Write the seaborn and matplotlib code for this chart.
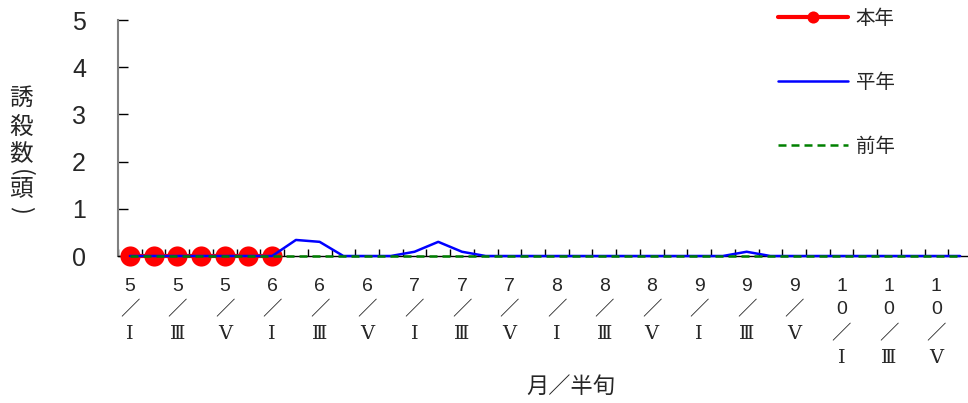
import matplotlib
matplotlib.use("Agg")
import matplotlib.pyplot as plt
import seaborn as sns
import numpy as np

# 月／半旬 categories (5/I .. 10/VI)
months = [5, 6, 7, 8, 9, 10]
halves = ["Ⅰ", "Ⅱ", "Ⅲ", "Ⅳ", "Ⅴ", "Ⅵ"]

# series values
this_year = [0, 0, 0, 0, 0, 0, 0]
normal_year = [0, 0, 0, 0, 0, 0, 0, 0.34, 0.30, 0, 0, 0, 0.09, 0.30, 0.09, 0,
               0, 0, 0, 0, 0, 0, 0, 0, 0, 0, 0.09, 0, 0, 0, 0, 0, 0, 0, 0, 0]
last_year = [0] * 36

y_ticks = [0, 1, 2, 3, 4, 5]

sns.set_theme(style="white")
plt.rcParams["font.family"] = ["Noto Sans CJK JP", "DejaVu Sans"]
tick_font = ["Liberation Sans", "DejaVu Serif", "Noto Sans CJK JP"]

# build tick labels, only every other one is shown
tick_labels = []
for m in months:
    for j, h in enumerate(halves):
        if j % 2 == 0:
            tick_labels.append("\n".join(list(str(m))) + "\n／\n" + h)
        else:
            tick_labels.append("")

fig = plt.figure(figsize=(9.68, 4.03), dpi=100)
ax = fig.add_axes([118 / 968, 1 - 256 / 403, (972 - 118) / 968, (256 - 20) / 403])

x_all = np.arange(len(tick_labels))

sns.lineplot(x=x_all[:len(this_year)], y=this_year, ax=ax, color="#ff0000",
             linewidth=3, marker="o", markersize=14.5, markeredgewidth=0,
             label="本年", clip_on=False, zorder=3)
sns.lineplot(x=x_all[:len(normal_year)], y=normal_year, ax=ax, color="#0000ff",
             linewidth=1.8, label="平年", clip_on=False, zorder=4)
sns.lineplot(x=x_all[:len(last_year)], y=last_year, ax=ax, color="#008000",
             linewidth=1.8, linestyle=(0, (3.2, 2)), label="前年", clip_on=False, zorder=5)

ax.set_xlim(-0.5, len(tick_labels) - 0.5)
ax.set_ylim(0, 5)
ax.set_yticks(y_ticks)
ax.set_yticklabels([str(v) for v in y_ticks], family=tick_font, fontsize=18)
ax.set_xticks(x_all)
ax.set_xticklabels(tick_labels, fontsize=14, linespacing=1.5, va="top", family=tick_font)
ax.set_xticks(np.arange(-0.5, len(tick_labels)), minor=True)

ax.tick_params(axis="x", which="major", length=0, pad=15.5)
ax.tick_params(axis="x", which="minor", direction="in", length=5, width=1, color="black", bottom=True)
ax.tick_params(axis="y", direction="in", length=7, width=1, color="black", left=True, pad=23)

for s in ["top", "right"]:
    ax.spines[s].set_visible(False)
ax.spines["left"].set_color("#808080")
ax.spines["left"].set_linewidth(1.5)
ax.spines["bottom"].set_color("black")
ax.spines["bottom"].set_linewidth(1)
ax.grid(False)
ax.set_xlabel("")
ax.set_ylabel("")

# vertical y label, parentheses turned sideways
ylab_chars = [("誘", 98, 0), ("殺", 127, 0), ("数", 155, 0), ("(", 173, 270), ("頭", 190, 0), (")", 210, 270)]
for ch, yy, rot in ylab_chars:
    fig.text(21 / 968, 1 - yy / 403, ch, fontsize=17, ha="center", va="center",
             rotation=rot)

fig.text(571 / 968, 1 - 386 / 403, "月／半旬", fontsize=16, ha="center", va="center")

leg = ax.legend(loc="upper left", bbox_to_anchor=(778 / 968, 1 - 8 / 403),
                bbox_transform=fig.transFigure, frameon=False, fontsize=14,
                handlelength=3.6, handletextpad=0.4, labelspacing=2.2,
                borderpad=0, borderaxespad=0, markerscale=0.6)

fig.savefig("out.png", dpi=100)
